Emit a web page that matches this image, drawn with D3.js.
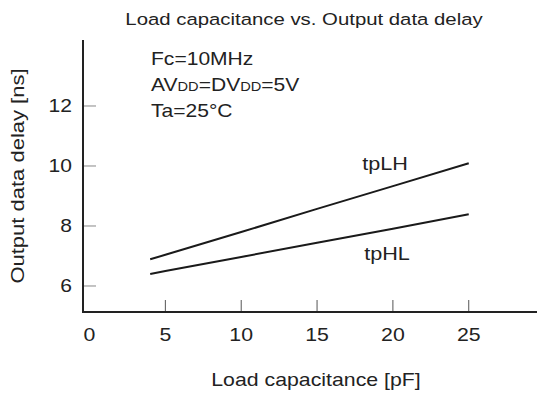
<!DOCTYPE html>
<html>
<head>
<meta charset="utf-8">
<script src="https://cdn.jsdelivr.net/npm/d3@7"></script>
<style>
  body { margin: 0; background: #fff; }
  text { font-family: "Liberation Sans", Arial, sans-serif; fill: #222; }
</style>
</head>
<body>
<svg id="chart" width="537" height="394"></svg>
<script>
// data
var capacitance = [4, 5, 10, 15, 20, 25];
var tpLH = [6.89, 7.04, 7.8, 8.57, 9.33, 10.09];
var tpHL = [6.4, 6.5, 6.97, 7.44, 7.91, 8.39];
var xTicks = [0, 5, 10, 15, 20, 25];
var yTicks = [6, 8, 10, 12];
var notes = [["Fc=10MHz"], ["AV", "DD", "=DV", "DD", "=5V"], ["Ta=25°C"]];

var svg = d3.select("#chart");
var sx = 1.17; // the reference text is a bit wide

var x = d3.scaleLinear().domain([-0.43, 29.5]).range([83, 537]);
var y = d3.scaleLinear().domain([5.133, 14.2]).range([312, 40]);

function wideText(px, py, anchor, size, str) {
  return svg.append("text")
    .attr("transform", "translate(" + px + "," + py + ") scale(" + sx + ",1)")
    .attr("text-anchor", anchor)
    .style("font-size", size + "px")
    .text(str);
}

// y ticks (short grey marks inward)
yTicks.forEach(function(v) {
  svg.append("line")
    .attr("x1", 83).attr("x2", 96)
    .attr("y1", y(v)).attr("y2", y(v))
    .attr("stroke", "#888").attr("stroke-width", 1);
  wideText(72, y(v) + 6.5, "end", 18, v);
});

// x ticks (marks upward from axis, none at 0)
xTicks.forEach(function(v) {
  if (v > 0) {
    svg.append("line")
      .attr("x1", x(v)).attr("x2", x(v))
      .attr("y1", 312).attr("y2", 300)
      .attr("stroke", "#555").attr("stroke-width", 1);
  }
  wideText(x(v), 341, "middle", 18.2, v);
});

// axes
svg.append("line").attr("x1", 83).attr("x2", 83).attr("y1", 40).attr("y2", 313)
  .attr("stroke", "#222").attr("stroke-width", 2);
svg.append("line").attr("x1", 82).attr("x2", 537).attr("y1", 312).attr("y2", 312)
  .attr("stroke", "#222").attr("stroke-width", 2);

// curves
var line = d3.line()
  .x(function(d) { return x(d[0]); })
  .y(function(d) { return y(d[1]); });
[tpLH, tpHL].forEach(function(s) {
  svg.append("path")
    .datum(capacitance.map(function(c, i) { return [c, s[i]]; }))
    .attr("d", line)
    .attr("fill", "none")
    .attr("stroke", "#1a1a1a")
    .attr("stroke-width", 2);
});

wideText(385, 170, "middle", 18.5, "tpLH");
wideText(387, 260, "middle", 18.5, "tpHL");

// title and axis labels
wideText(304, 25, "middle", 17.4, "Load capacitance vs. Output data delay");
wideText(316, 386, "middle", 18.2, "Load capacitance [pF]");
svg.append("text")
  .attr("transform", "translate(24,176) rotate(-90) scale(1,0.87)")
  .attr("text-anchor", "middle")
  .style("font-size", "22px")
  .text("Output data delay [ns]");

// conditions block, "DD" parts set smaller
notes.forEach(function(parts, i) {
  var t = svg.append("text")
    .attr("transform", "translate(151," + (65 + i * 26) + ") scale(" + sx + ",1)")
    .style("font-size", "18px");
  parts.forEach(function(p) {
    t.append("tspan")
      .style("font-size", p === "DD" ? "12.5px" : "18px")
      .text(p);
  });
});
</script>
</body>
</html>
